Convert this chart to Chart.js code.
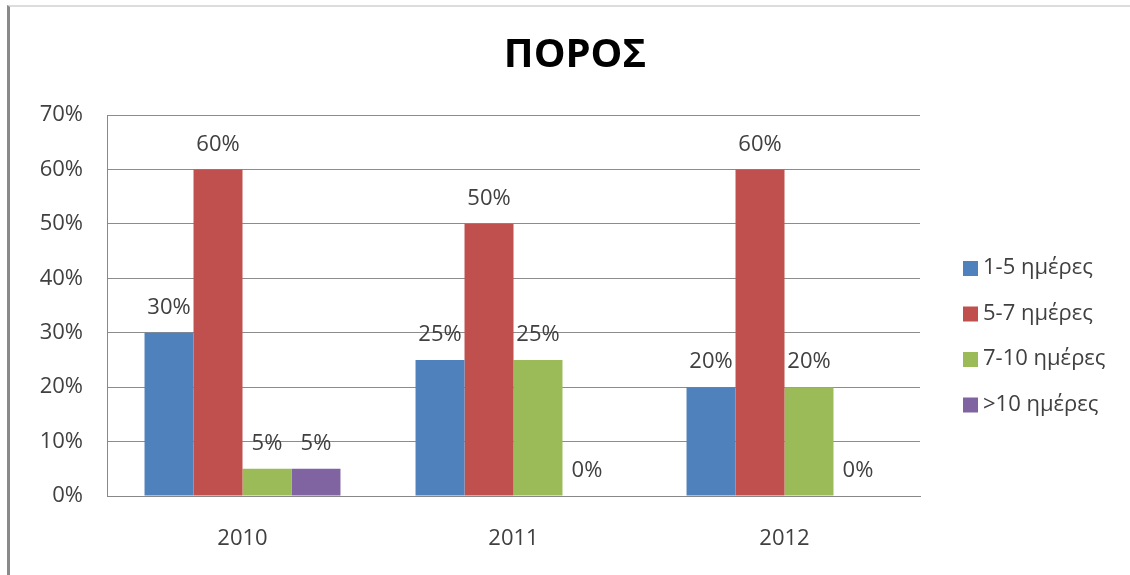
<!DOCTYPE html>
<html>
<head>
<meta charset="utf-8">
<script src="https://cdn.jsdelivr.net/npm/chart.js@4"></script>
<style>
  html, body { margin: 0; padding: 0; background: #fff; }
  #wrap { position: relative; width: 1130px; height: 575px; }
  #frame { position: absolute; left: 7px; top: 5px; width: 1123px; height: 570px;
           border-left: 3px solid #8a8a8a; border-top: 2px solid #dcdcdc; box-sizing: border-box; }
  canvas { position: absolute; left: 0; top: 0; }
</style>
</head>
<body>
<div id="wrap">
  <div id="frame"></div>
  <canvas id="chart" width="1130" height="575"></canvas>
</div>
<script>
// chart data
const years = ['2010', '2011', '2012'];
const seriesNames = ['1-5 ημέρες', '5-7 ημέρες', '7-10 ημέρες', '>10 ημέρες'];
const days1to5 = [30, 25, 20];
const days5to7 = [60, 50, 60];
const days7to10 = [5, 25, 20];
const daysOver10 = [5, 0, 0];
const yTicks = [0, 10, 20, 30, 40, 50, 60, 70];
const chartTitle = 'ΠΟΡΟΣ';

const colors = ['#4F81BD', '#C0504D', '#9BBB59', '#8064A2'];
const fontFamily = '"Open Sans", "DejaVu Sans", sans-serif';
const textColor = '#404040';

// Function to draw value labels above each bar
const barLabels = {
    id: 'barLabels',
    afterDatasetsDraw(chart) {
        const ctx = chart.ctx;
        ctx.save();
        ctx.font = '22px ' + fontFamily;
        ctx.fillStyle = textColor;
        ctx.textAlign = 'center';
        ctx.textBaseline = 'middle';
        chart.data.datasets.forEach((ds, i) => {
            chart.getDatasetMeta(i).data.forEach((bar, j) => {
                ctx.fillText(ds.data[j] + '%', bar.x, bar.y - 25);
            });
        });
        ctx.restore();
    }
};

// Function to draw the title and the legend (centred on the whole page, legend at right)
const titleAndLegend = {
    id: 'titleAndLegend',
    afterDraw(chart) {
        const ctx = chart.ctx;
        ctx.save();
        ctx.fillStyle = '#000';
        ctx.font = 'bold 40px ' + fontFamily;
        ctx.textAlign = 'center';
        ctx.textBaseline = 'middle';
        ctx.fillText(chartTitle, 575, 56);

        ctx.font = '22px ' + fontFamily;
        ctx.textAlign = 'left';
        chart.data.datasets.forEach((ds, i) => {
            const y = 268 + i * 45.5;
            ctx.fillStyle = ds.backgroundColor;
            ctx.fillRect(963, y - 7, 15, 15);
            ctx.fillStyle = textColor;
            ctx.fillText(ds.label, 983, y);
        });
        ctx.restore();
    }
};

const datasets = [days1to5, days5to7, days7to10, daysOver10].map((data, i) => ({
    label: seriesNames[i],
    data: data,
    backgroundColor: colors[i],
    borderWidth: 0,
    categoryPercentage: 0.723,
    barPercentage: 1
}));

new Chart(document.getElementById('chart'), {
    type: 'bar',
    data: { labels: years, datasets: datasets },
    plugins: [barLabels, titleAndLegend],
    options: {
        responsive: false,
        animation: false,
        layout: { padding: { left: 0, right: 210, top: 115, bottom: 0 } },
        plugins: {
            legend: { display: false },
            tooltip: { enabled: false },
            title: { display: false }
        },
        scales: {
            x: {
                grid: { display: false },
                border: { color: '#888', width: 1 },
                ticks: { color: textColor, font: { family: fontFamily, size: 22 }, padding: 22 },
                afterFit: s => { s.height = 79; }
            },
            y: {
                min: 0,
                max: 70,
                afterBuildTicks: s => { s.ticks = yTicks.map(v => ({ value: v })); },
                grid: { color: '#8c8c8c', drawTicks: false },
                border: { color: '#888', width: 1 },
                ticks: {
                    color: textColor,
                    font: { family: fontFamily, size: 22 },
                    padding: 24,
                    callback: v => v + '%'
                },
                afterFit: s => { s.width = 107; }
            }
        }
    }
});
</script>
</body>
</html>
